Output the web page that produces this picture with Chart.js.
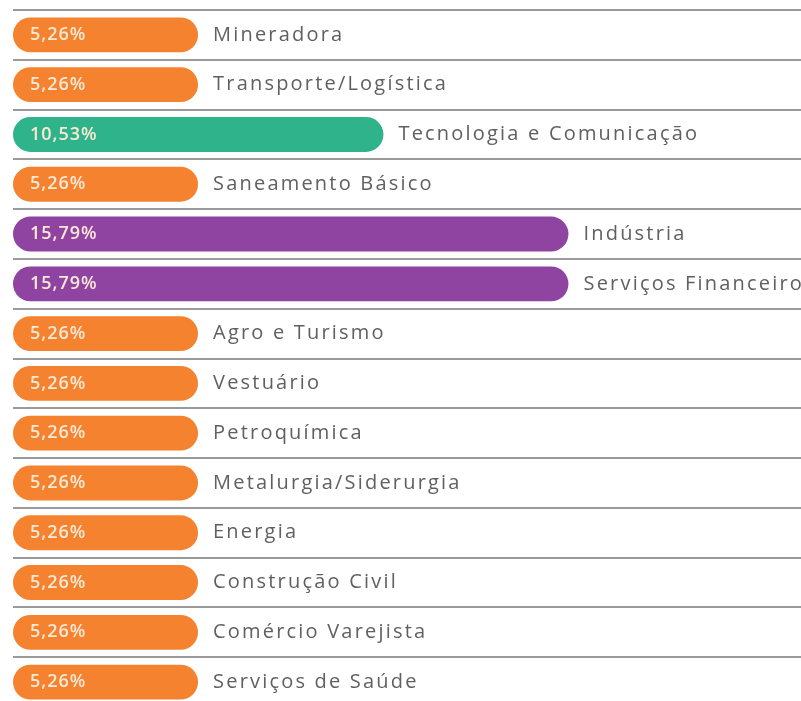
<!DOCTYPE html>
<html>
<head>
<meta charset="utf-8">
<script src="https://cdn.jsdelivr.net/npm/chart.js@4"></script>
<style>
  html, body { margin: 0; padding: 0; background: #fff; overflow: hidden; }
</style>
</head>
<body>
<canvas id="setores" width="801" height="720"></canvas>
<script>
const sectors = [
  "Mineradora",
  "Transporte/Logística",
  "Tecnologia e Comunicação",
  "Saneamento Básico",
  "Indústria",
  "Serviços Financeiros",
  "Agro e Turismo",
  "Vestuário",
  "Petroquímica",
  "Metalurgia/Siderurgia",
  "Energia",
  "Construção Civil",
  "Comércio Varejista",
  "Serviços de Saúde",
];
const shares = [5.26, 5.26, 10.53, 5.26, 15.79, 15.79, 5.26, 5.26, 5.26, 5.26, 5.26, 5.26, 5.26, 5.26];
const barColors = [
  "#f4822f", "#f4822f", "#2eb38a", "#f4822f", "#8e44a0", "#8e44a0", "#f4822f",
  "#f4822f", "#f4822f", "#f4822f", "#f4822f", "#f4822f", "#f4822f", "#f4822f",
];

// value inside the bar, sector name right after it
const barLabels = {
  id: "barLabels",
  afterDatasetsDraw(chart) {
    const ctx = chart.ctx;
    const meta = chart.getDatasetMeta(0);
    ctx.save();
    ctx.textBaseline = "middle";
    ctx.textAlign = "left";
    meta.data.forEach((bar, i) => {
      ctx.font = "600 18px 'Open Sans'";
      ctx.letterSpacing = "1px";
      ctx.fillStyle = "#fde8d6";
      ctx.fillText(shares[i].toFixed(2).replace(".", ",") + "%", bar.base + 17, bar.y);
      ctx.font = "20px 'Open Sans'";
      ctx.letterSpacing = "2.2px";
      ctx.fillStyle = "#606060";
      ctx.fillText(sectors[i], bar.x + 15, bar.y);
    });
    ctx.restore();
  },
};

new Chart(document.getElementById("setores"), {
  type: "bar",
  data: {
    labels: sectors,
    datasets: [
      {
        data: shares,
        backgroundColor: barColors,
        borderRadius: 30,
        borderSkipped: false,
        barPercentage: 0.7,
        categoryPercentage: 1,
      },
    ],
  },
  options: {
    indexAxis: "y",
    responsive: false,
    animation: false,
    layout: {
      padding: { left: 13, top: 10, right: 0, bottom: 13 },
    },
    plugins: {
      legend: { display: false },
      tooltip: { enabled: false },
    },
    scales: {
      x: {
        display: false,
        min: 0,
        max: 22.4,
      },
      y: {
        ticks: { display: false },
        border: { display: false },
        grid: {
          offset: true,
          drawTicks: false,
          color: "#9a9a9a",
          lineWidth: 2,
        },
      },
    },
  },
  plugins: [barLabels],
});
</script>
</body>
</html>
